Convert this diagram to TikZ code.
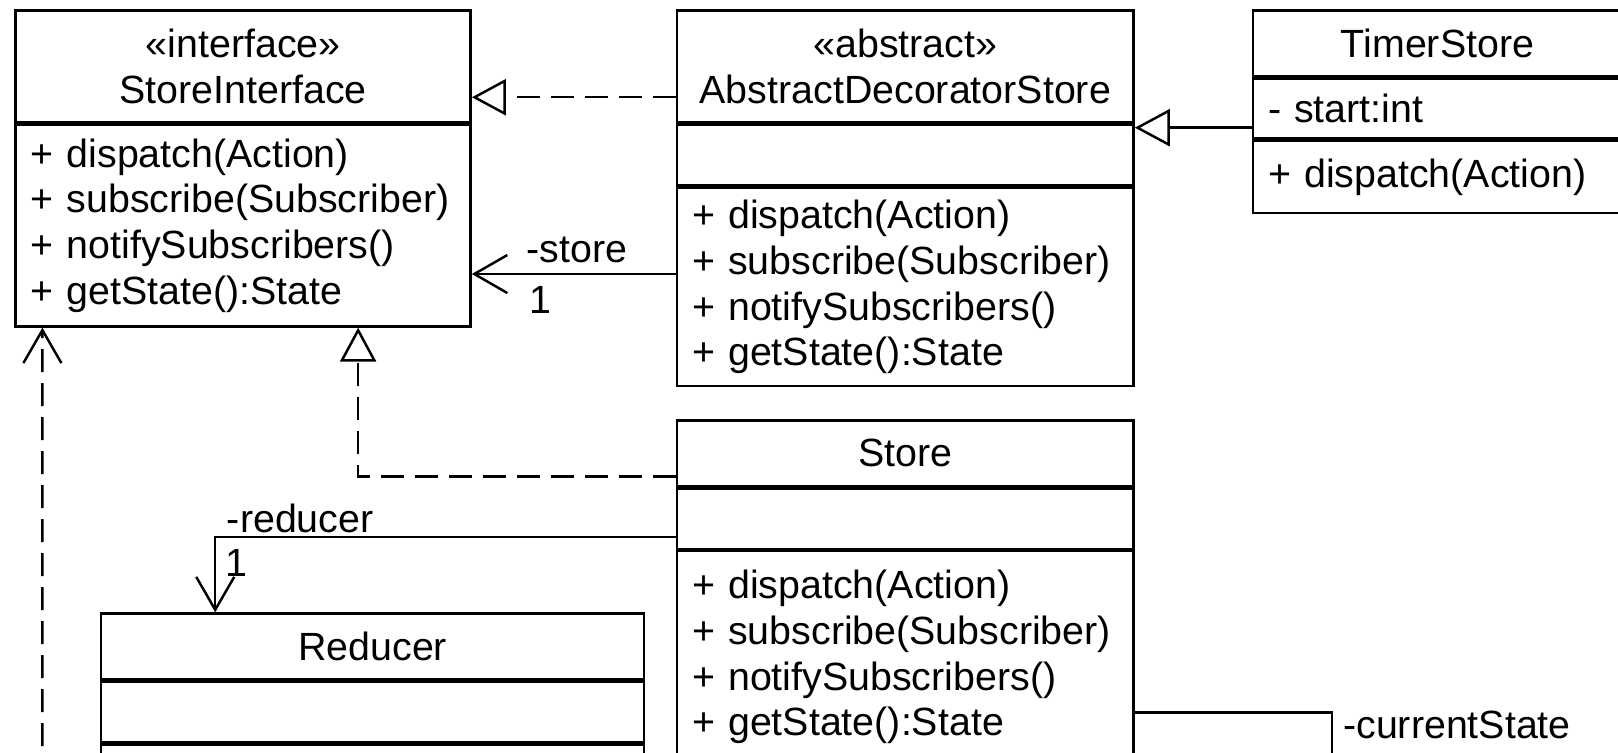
\documentclass[tikz,border=0pt]{standalone}
\usepackage{fontspec}
\setmainfont{Liberation Sans}
\usetikzlibrary{arrows.meta,positioning}
\newcommand{\umlfont}{\fontsize{11.2}{13}\selectfont}
\tikzset{cls/.style={draw,line width=0.7pt,inner sep=0pt,font=\umlfont,align=center},
  ops/.style={draw,line width=0.7pt,inner xsep=1.5mm,inner ysep=0pt,font=\umlfont,align=left},
  lbl/.style={inner sep=0pt,font=\umlfont},
  realize/.style={line width=0.7pt,dash pattern=on 2.3mm off 1.1mm,-{Triangle[open,length=3.4mm,width=3.6mm]}},
  inherit/.style={line width=0.7pt,-{Triangle[open,length=3.5mm,width=3.7mm]}},
  assoc/.style={line width=0.7pt,-{Straight Barb[length=3.3mm,width=3.8mm]}},
  depend/.style={assoc,dash pattern=on 2.3mm off 1.1mm}}
\begin{document}
\begin{tikzpicture}[node distance=0pt]
\useasboundingbox (0,0) rectangle (16.18,-7.52);
\node[cls,anchor=north west,text width=45.5mm,minimum height=11.14mm] (siH) at (0.144,-0.093) {«interface»\\StoreInterface};
\node[ops,below=of siH,text width=42.5mm,minimum height=20.2mm] (siM) {+ dispatch(Action)\\+ subscribe(Subscriber)\\+ notifySubscribers()\\+ getState():State};
\node[cls,right=20.4mm of siH,text width=45.65mm,minimum height=11.14mm] (adsH) {«abstract»\\AbstractDecoratorStore};
\node[cls,below=of adsH,text width=45.65mm,minimum height=6.1mm] (adsA) {};
\node[ops,below=of adsA,text width=42.65mm,minimum height=19.83mm] (adsM) {+ dispatch(Action)\\+ subscribe(Subscriber)\\+ notifySubscribers()\\+ getState():State};
\node[cls,right=11.7mm of adsH.north east,anchor=north west,text width=36.9mm,minimum height=6.57mm] (tsH) {TimerStore};
\node[ops,below=of tsH,text width=33.9mm,minimum height=6mm] (tsA) {- start:int};
\node[ops,below=of tsA,text width=33.9mm,minimum height=7.17mm] (tsM) {+ dispatch(Action)};
\node[cls,below=3.17mm of adsM,text width=45.65mm,minimum height=6.56mm] (stH) {Store};
\node[cls,below=of stH,text width=45.65mm,minimum height=6.04mm] (stA) {};
\node[ops,below=of stA,text width=42.65mm,minimum height=21.2mm] (stM) {+ dispatch(Action)\\+ subscribe(Subscriber)\\+ notifySubscribers()\\+ getState():State};
\node[cls,anchor=north west,text width=54.3mm,minimum height=6.6mm] (rdH) at (1.0,-6.123) {Reducer};
\node[cls,below=of rdH,text width=54.3mm,minimum height=6.07mm] (rdA) {};
\node[cls,below=of rdA,text width=54.3mm,minimum height=8mm] (rdM) {};
\coordinate (r1) at ([yshift=-3.1mm]adsH.west);
\coordinate (a1) at ([yshift=1.3mm]adsM.west);
\coordinate (g1) at ([yshift=-1.9mm]tsA.west);
\coordinate (r2) at ([yshift=-2.35mm]stH.west);
\coordinate (a2) at ([yshift=-1.85mm]stA.west);
\coordinate (a3) at ([yshift=-5.53mm]stM.east);
\coordinate (dep) at (0.424,-7.8);
\coordinate (cs) at (13.32,-7.8);
\draw[realize] (r1) -- (r1 -| siH.east);
\draw[assoc] (a1) -- (a1 -| siM.east) node[lbl,pos=1,xshift=10.5mm,yshift=2.4mm] (lStore) {-store} node[lbl,pos=1,xshift=6.9mm,yshift=-2.6mm] (mStore) {1};
\draw[inherit] (g1) -- (g1 -| adsH.east);
\draw[realize] (r2) -| ([xshift=11.5mm]siM.south);
\draw[assoc] (a2) -| ([xshift=-15.75mm]rdH.north) node[lbl,pos=0.5,xshift=8.5mm,yshift=1.9mm] (lRed) {-reducer} node[lbl,pos=0.5,xshift=2.1mm,yshift=-2.6mm] (mRed) {1};
\draw[depend] (dep) -- ([xshift=2.8mm]siM.south west);
\draw[line width=0.7pt] (a3) -| (cs) node[lbl,pos=0.5,xshift=12.5mm,yshift=-1.2mm] (lCur) {-currentState} node[lbl,pos=0.5,xshift=2mm,yshift=-6mm] (mCur) {1};
\end{tikzpicture}
\end{document}
